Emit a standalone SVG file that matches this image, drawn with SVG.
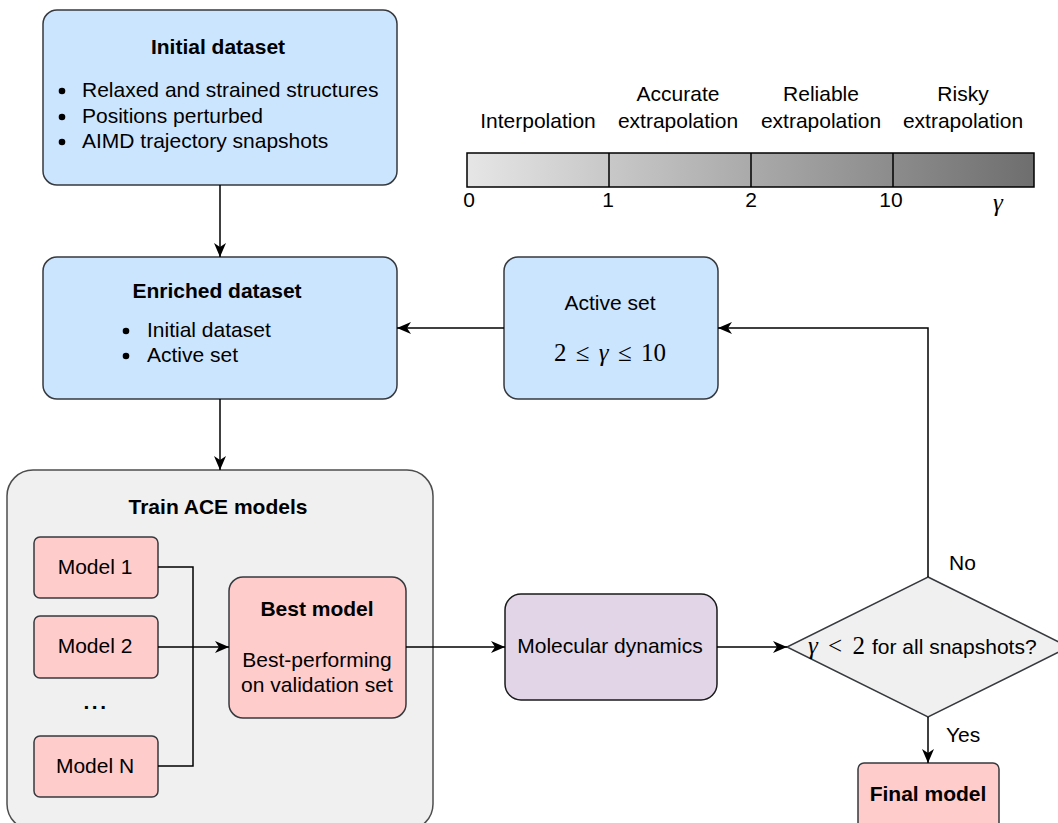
<svg xmlns="http://www.w3.org/2000/svg" width="1058" height="823" viewBox="0 0 1058 823">
  <style>
    text { font-family: "Liberation Sans", Arial, Helvetica, sans-serif; font-size: 21px; fill: #000; }
    .b { font-weight: bold; }
    .c { text-anchor: middle; }
    .m { font-family: "Liberation Serif", "DejaVu Serif", serif; font-size: 25px; }
    .i { font-style: italic; }
    .blue { fill: #cce5ff; stroke: #36393d; stroke-width: 1.5; }
    .pink { fill: #ffcccc; stroke: #36393d; stroke-width: 1.5; }
    .grey { fill: #f0f0f0; stroke: #4d4d4d; stroke-width: 1.5; }
    .purple { fill: #e1d5e7; stroke: #1a1a1a; stroke-width: 1.5; }
    .edge { fill: none; stroke: #000; stroke-width: 1.5; }
    .arrow { marker-end: url(#head); }
  </style>
  <defs>
    <marker id="head" viewBox="0 0 14 12" refX="14" refY="6" markerWidth="14" markerHeight="12" markerUnits="userSpaceOnUse" orient="auto">
      <path d="M0,0 L14,6 L0,12 L4,6 Z" fill="#000"/>
    </marker>
    <linearGradient id="scale" x1="0" y1="0" x2="1" y2="0">
      <stop offset="0" stop-color="#e6e6e6"/>
      <stop offset="1" stop-color="#6e6e6e"/>
    </linearGradient>
  </defs>

  <!-- extrapolation grade scale -->
  <g id="gamma-scale">
    <text class="c" x="538" y="128">Interpolation</text>
    <text class="c" x="678" y="101">Accurate</text>
    <text class="c" x="678" y="128">extrapolation</text>
    <text class="c" x="821" y="101">Reliable</text>
    <text class="c" x="821" y="128">extrapolation</text>
    <text class="c" x="963" y="101">Risky</text>
    <text class="c" x="963" y="128">extrapolation</text>
    <rect x="467" y="153" width="567" height="34" fill="url(#scale)" stroke="#000" stroke-width="1.5"/>
    <path d="M609,153 V187 M751,153 V187 M893,153 V187" stroke="#000" stroke-width="1.5"/>
    <text class="c" x="469" y="207">0</text>
    <text class="c" x="608" y="207">1</text>
    <text class="c" x="751" y="207">2</text>
    <text class="c" x="891" y="207">10</text>
    <text class="c m i" x="998" y="211">γ</text>
  </g>

  <!-- Initial dataset -->
  <g id="initial-dataset">
    <rect class="blue" x="43" y="10" width="354" height="175" rx="14"/>
    <text class="b c" x="218" y="54">Initial dataset</text>
    <circle cx="62" cy="91" r="3.3"/>
    <circle cx="62" cy="117" r="3.3"/>
    <circle cx="62" cy="142" r="3.3"/>
    <text x="82" y="97">Relaxed and strained structures</text>
    <text x="82" y="123">Positions perturbed</text>
    <text x="82" y="148">AIMD trajectory snapshots</text>
  </g>

  <!-- Enriched dataset -->
  <g id="enriched-dataset">
    <rect class="blue" x="43" y="257" width="354" height="142" rx="14"/>
    <text class="b c" x="217" y="298">Enriched dataset</text>
    <circle cx="126" cy="331" r="3.3"/>
    <circle cx="126" cy="356" r="3.3"/>
    <text x="147" y="337">Initial dataset</text>
    <text x="147" y="362">Active set</text>
  </g>

  <!-- Active set -->
  <g id="active-set">
    <rect class="blue" x="504" y="257" width="214" height="142" rx="14"/>
    <text class="c" x="610" y="310">Active set</text>
    <text class="c m" x="610" y="361" word-spacing="3">2 ≤ <tspan class="i">γ</tspan> ≤ 10</text>
  </g>

  <!-- Training container -->
  <g id="train-ace-models">
    <rect class="grey" x="7" y="470" width="426" height="360" rx="26"/>
    <text class="b c" x="218" y="514">Train ACE models</text>
  </g>

  <g id="model-1">
    <rect class="pink" x="34" y="537" width="124" height="61" rx="6"/>
    <text class="c" x="95" y="574">Model 1</text>
  </g>
  <g id="model-2">
    <rect class="pink" x="34" y="616" width="124" height="62" rx="6"/>
    <text class="c" x="95" y="653">Model 2</text>
  </g>
  <g id="model-ellipsis">
    <text class="b c" x="96" y="709" letter-spacing="2.5">...</text>
  </g>
  <g id="model-n">
    <rect class="pink" x="34" y="736" width="124" height="61" rx="6"/>
    <text class="c" x="95" y="773">Model N</text>
  </g>

  <g id="best-model">
    <rect class="pink" x="229" y="577" width="177" height="141" rx="14"/>
    <text class="b c" x="317" y="616">Best model</text>
    <text class="c" x="317" y="667">Best-performing</text>
    <text class="c" x="317" y="692">on validation set</text>
  </g>

  <g id="molecular-dynamics">
    <rect class="purple" x="505" y="594" width="212" height="106" rx="16"/>
    <text class="c" x="610" y="653">Molecular dynamics</text>
  </g>

  <g id="decision">
    <polygon points="928,577 1069,647 928,717 787,647" fill="#f0f0f0" stroke="#36393d" stroke-width="1.5"/>
    <text class="m" x="808" y="654" word-spacing="4"><tspan class="i">γ</tspan> &lt; 2</text>
    <text x="872" y="654">for all snapshots?</text>
  </g>

  <g id="final-model">
    <rect class="pink" x="858" y="763" width="141" height="70" rx="6"/>
    <text class="b c" x="928" y="801">Final model</text>
  </g>

  <!-- connectors -->
  <g id="connectors">
    <path class="edge arrow" d="M220,185 V257"/>
    <path class="edge arrow" d="M220,399 V470"/>
    <path class="edge arrow" d="M504,328 H397"/>
    <path class="edge arrow" d="M928,577 V328 H718"/>
    <path class="edge" d="M158,567 H193 V766 H158"/>
    <path class="edge arrow" d="M158,647 H229"/>
    <path class="edge arrow" d="M406,647 H505"/>
    <path class="edge arrow" d="M717,647 H787"/>
    <path class="edge arrow" d="M928,717 V763"/>
    <text x="949" y="570">No</text>
    <text x="946" y="742">Yes</text>
  </g>
</svg>
